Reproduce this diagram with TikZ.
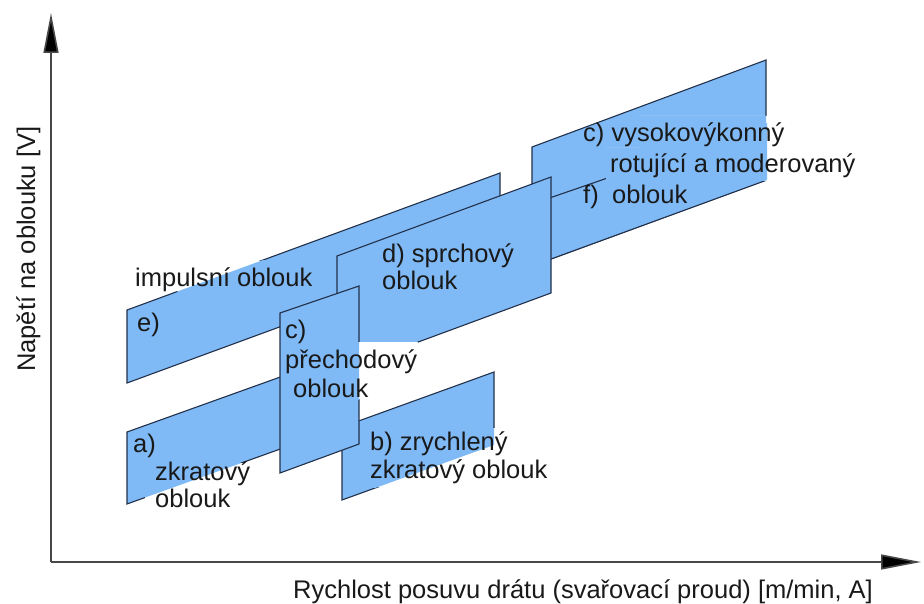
\documentclass[tikz,border=0pt]{standalone}
\usepackage{fontspec}
\setmainfont{Liberation Sans}
\usetikzlibrary{arrows.meta}
\definecolor{arcBlue}{RGB}{127,186,247}
\definecolor{arcEdge}{RGB}{34,48,74}
\definecolor{axisGray}{RGB}{72,72,72}
\newcommand{\lbl}{\fontsize{25.5}{30}\selectfont}

\begin{document}
\begin{tikzpicture}[x=1pt, y=-1pt,
    oblast/.style={fill=arcBlue, draw=arcEdge, line width=1.1pt},
    maska/.style={fill=white},
    popis/.style={font=\lbl, text=black!90, inner sep=0pt, anchor=base west},
    osa/.style={draw=axisGray, line width=1.6pt, -{Triangle[length=40pt, width=15pt, fill=black]}}]
    \useasboundingbox (0,0) rectangle (924,604);

    % axes
    \coordinate (O) at (51,562);
    \coordinate (ytop) at (51,13);
    \coordinate (xend) at (921,562);
    \draw[osa] (O) -- (ytop);
    \draw[osa] (O) -- (xend);
    \node[popis, rotate=90] (ylab) at (35,372) {Napětí na oblouku [V]};
    \node[popis] (xlab) at (293,598) {Rychlost posuvu drátu (svařovací proud) [m/min, A]};

    % corners of the regions
    \coordinate (f1) at (532,147);  \coordinate (f2) at (766,60);
    \coordinate (f3) at (766,180);  \coordinate (f4) at (532,266);
    \coordinate (g1) at (480,222);  \coordinate (g2) at (767,123);
    \coordinate (g3) at (767,180);  \coordinate (g4) at (480,285);
    \coordinate (e1) at (127,310);  \coordinate (e2) at (500,173);
    \coordinate (e3) at (500,246);  \coordinate (e4) at (127,383);
    \coordinate (a1) at (127,432);  \coordinate (a2) at (350,352);
    \coordinate (a3) at (350,424);  \coordinate (a4) at (127,504);
    \coordinate (d1) at (337,256);  \coordinate (d2) at (551,177);
    \coordinate (d3) at (551,293);  \coordinate (d4) at (337,372);
    \coordinate (b1) at (342,427);  \coordinate (b2) at (494,372);
    \coordinate (b3) at (494,445);  \coordinate (b4) at (342,500);
    \coordinate (c1) at (280,313);  \coordinate (c2) at (359,286);
    \coordinate (c3) at (359,444);  \coordinate (c4) at (280,473);

    % regions, back to front
    \path[oblast] (f1) -- (f2) -- (f3) -- (f4) -- cycle;
    \path[oblast] (g1) -- (g2) -- (g3) -- (g4) -- cycle;
    \path[oblast] (e1) -- (e2) -- (e3) -- (e4) -- cycle;
    \path[oblast] (a1) -- (a2) -- (a3) -- (a4) -- cycle;
    \path[oblast] (d1) -- (d2) -- (d3) -- (d4) -- cycle;
    \path[oblast] (b1) -- (b2) -- (b3) -- (b4) -- cycle;
    \path[oblast] (c1) -- (c2) -- (c3) -- (c4) -- cycle;

    % text frames hiding the outlines
    \begin{scope}
        \clip (132,261) rectangle (312,291);
        \fill[maska] (132,261) rectangle (312,291);
        \fill[arcBlue] (e1) -- (e2) -- (e3) -- (e4) -- cycle;
    \end{scope}
    \begin{scope}
        \clip (145,463) rectangle (252,515);
        \fill[maska] (145,463) rectangle (252,515);
        \fill[arcBlue] (a1) -- (a2) -- (a3) -- (a4) -- cycle;
    \end{scope}
    \begin{scope}
        \clip (365,428) rectangle (550,487);
        \fill[maska] (365,428) rectangle (550,487);
        \fill[arcBlue] (b1) -- (b2) -- (b3) -- (b4) -- cycle;
    \end{scope}
    \begin{scope}
        \clip (284,342) rectangle (418,399);
        \fill[maska] (284,342) rectangle (418,399);
        \fill[arcBlue] (c1) -- (c2) -- (c3) -- (c4) -- cycle;
    \end{scope}
    \begin{scope}
        \clip (640,116) rectangle (862,148) (606,148) rectangle (862,181);
        \fill[maska] (600,100) rectangle (870,190);
        \fill[arcBlue] (f1) -- (f2) -- (f3) -- (f4) -- cycle;
        \fill[arcBlue] (g1) -- (g2) -- (g3) -- (g4) -- cycle;
    \end{scope}

    % labels
    \node[popis] (impulsni) at (135,287) {impulsní oblouk};
    \node[popis] (lblE) at (137,331) {e)};
    \node[popis] (lblD1) at (382,262) {d) sprchový};
    \node[popis] (lblD2) at (382,290) {oblouk};
    \node[popis] (lblC1) at (285,338) {c)};
    \node[popis] (lblC2) at (285,368) {přechodový};
    \node[popis] (lblC3) at (293,397) {oblouk};
    \node[popis] (lblA1) at (133,452) {a)};
    \node[popis] (lblA2) at (155,480) {zkratový};
    \node[popis] (lblA3) at (155,507) {oblouk};
    \node[popis] (lblB1) at (370,450) {b) zrychlený};
    \node[popis] (lblB2) at (370,478) {zkratový oblouk};
    \node[popis] (lblV1) at (583,142) {c) vysokovýkonný};
    \node[popis] (lblV2) at (610,173) {rotující a moderovaný};
    \node[popis] (lblF) at (583,204) {f)};
    \node[popis] (lblV3) at (612,204) {oblouk};
\end{tikzpicture}
\end{document}
